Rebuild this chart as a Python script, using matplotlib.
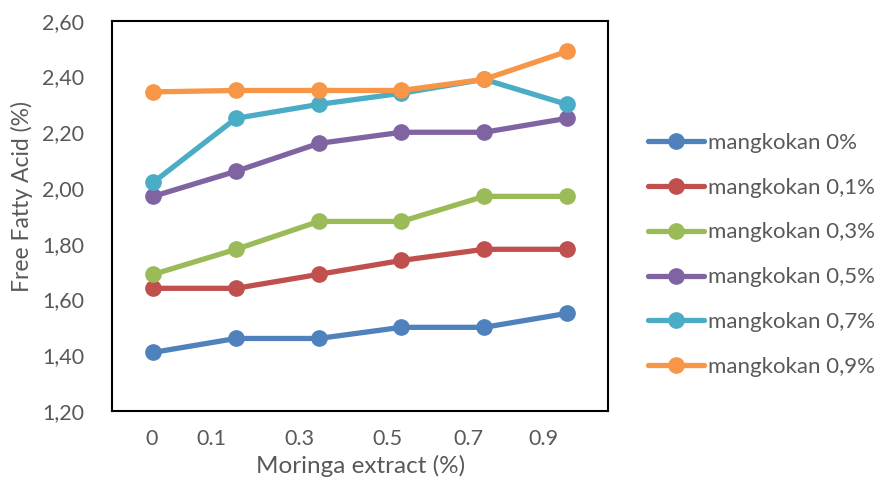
import matplotlib
matplotlib.use("Agg")
import matplotlib.pyplot as plt

series_names = ["mangkokan 0%", "mangkokan 0,1%", "mangkokan 0,3%",
                "mangkokan 0,5%", "mangkokan 0,7%", "mangkokan 0,9%"]
colors = ["#4F81BD", "#C0504D", "#9BBB59", "#8064A2", "#4BACC6", "#F79646"]

m0 = [1.41, 1.46, 1.46, 1.50, 1.50, 1.55]
m01 = [1.64, 1.64, 1.69, 1.74, 1.78, 1.78]
m03 = [1.69, 1.78, 1.88, 1.88, 1.97, 1.97]
m05 = [1.97, 2.06, 2.16, 2.20, 2.20, 2.25]
m07 = [2.02, 2.25, 2.30, 2.34, 2.39, 2.30]
m09 = [2.345, 2.35, 2.35, 2.35, 2.39, 2.49]
values = [m0, m01, m03, m05, m07, m09]

x_positions = [0, 1, 2, 3, 4, 5]
tick_labels = ["0", "0.1", "0.3", "0.5", "0.7", "0.9"]
tick_positions = [-0.02, 0.70, 1.77, 2.83, 3.81, 4.71]
y_ticks = [1.20, 1.40, 1.60, 1.80, 2.00, 2.20, 2.40, 2.60]

plt.rcParams['font.family'] = ['Lato', 'DejaVu Sans']
text_color = "#595959"

fig = plt.figure(figsize=(8.74, 4.84), dpi=100)
ax = fig.add_axes([0.128, 0.151, 0.568, 0.806])

for name, vals, c in zip(series_names, values, colors):
    ax.plot(x_positions, vals, color=c, lw=3.8, marker='o', markersize=11,
            label=name, solid_capstyle='round')

ax.set_xlim(-0.5, 5.5)
ax.set_ylim(1.20, 2.60)
ax.set_yticks(y_ticks)
ax.set_yticklabels([f"{v:.2f}".replace(".", ",") for v in y_ticks])
ax.set_xticks(tick_positions)
ax.set_xticklabels(tick_labels)
ax.tick_params(axis='both', length=0, labelsize=15.5, labelcolor=text_color)
ax.tick_params(axis='x', pad=13)
ax.tick_params(axis='y', pad=20)
for s in ax.spines.values():
    s.set_linewidth(1.5)
    s.set_color("black")

ax.set_xlabel("Moringa extract (%)", fontsize=17.5, color=text_color, labelpad=4)
ax.set_ylabel("Free Fatty Acid (%)", fontsize=16.5, color=text_color)
ax.yaxis.set_label_coords(-0.158, 0.55)

leg = ax.legend(loc='center left', bbox_to_anchor=(1.062, 0.40), frameon=False,
                fontsize=16, handlelength=2.5, handletextpad=0.2,
                labelspacing=1.12, borderaxespad=0)
for t in leg.get_texts():
    t.set_color(text_color)

fig.savefig("out.png", dpi=100)
